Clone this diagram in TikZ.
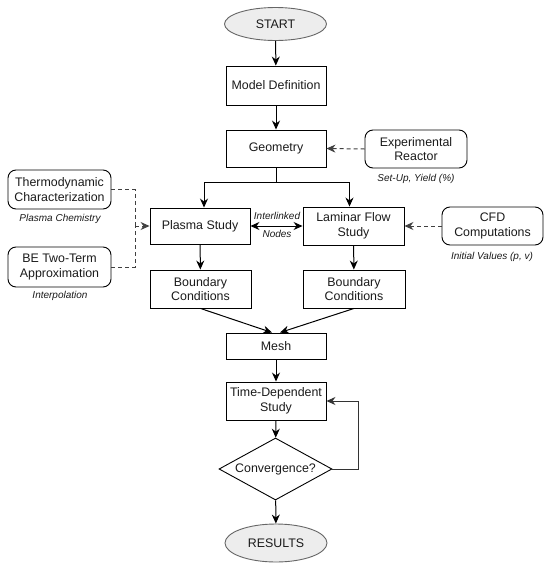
\documentclass[tikz,border=0pt]{standalone}
\usepackage{fontspec}
\setmainfont{Liberation Sans}
\usetikzlibrary{shapes.geometric,arrows.meta}
\definecolor{txt}{HTML}{1A1A1A}
\definecolor{ovfill}{HTML}{EDEDED}
\definecolor{ovline}{HTML}{666666}
\begin{document}
\begin{tikzpicture}[x=1pt,y=-1pt,
  base/.style={text=txt,font=\fontsize{12.4}{14.5}\selectfont,align=center,inner sep=1pt},
  box/.style={base,draw=black,line width=0.9pt,rectangle},
  rbox/.style={base,draw=black,line width=0.9pt,rectangle,rounded corners=8pt},
  oval/.style={base,draw=ovline,fill=ovfill,line width=0.9pt,ellipse,minimum width=102pt},
  cond/.style={base,draw=black,line width=0.9pt,diamond,aspect=1.82,inner sep=0pt,minimum width=113pt,minimum height=62pt},
  note/.style={text=txt,font=\fontsize{10}{12}\selectfont\itshape,inner sep=0pt},
  arr/.style={line width=1pt,-{Stealth[length=9pt,width=8pt]}},
  darr/.style={line width=1pt,{Stealth[length=9pt,width=8pt]}-{Stealth[length=9pt,width=8pt]}},
  dsh/.style={line width=1pt,draw=black!75,dash pattern=on 4pt off 3pt},
  ln/.style={line width=1pt}
]
\useasboundingbox (0,0) rectangle (550,568);
% nodes
\node[oval,minimum height=33pt] (start) at (275.5,24) {START};
\node[box,minimum width=100pt,minimum height=39pt] (model) at (276,85.5) {Model Definition};
\node[box,minimum width=100pt,minimum height=37pt] (geom) at (276,148.5) {Geometry};
\node[rbox,minimum width=102pt,minimum height=38pt] (exp) at (416,149) {Experimental\\Reactor};
\node[box,minimum width=100pt,minimum height=36pt] (plasma) at (200,226) {Plasma Study};
\node[box,minimum width=101pt,minimum height=38pt] (lam) at (353.5,226) {Laminar Flow\\Study};
\node[rbox,minimum width=101pt,minimum height=38pt] (cfd) at (492.5,226) {CFD\\Computations};
\node[rbox,minimum width=103pt,minimum height=39pt] (thermo) at (59.5,189.5) {Thermodynamic\\Characterization};
\node[rbox,minimum width=103pt,minimum height=40pt] (be) at (59.5,267) {BE Two-Term\\Approximation};
\node[box,minimum width=101pt,minimum height=38pt] (bcl) at (200.5,289) {Boundary\\Conditions};
\node[box,minimum width=102pt,minimum height=38pt] (bcr) at (354,289) {Boundary\\Conditions};
\node[box,minimum width=100pt,minimum height=26pt] (mesh) at (276,346) {Mesh};
\node[box,minimum width=100pt,minimum height=38pt] (time) at (276,401) {Time-Dependent\\Study};
\node[cond] (conv) at (275.5,469) {Convergence?};
\node[oval,minimum height=38pt] (res) at (276,543) {RESULTS};
% notes
\node[note] (n1) at (416,179) {Set-Up, Yield (\%)};
\node[note] (n2) at (492,257) {Initial Values (p, v)};
\node[note] (n3) at (60,219) {Plasma Chemistry};
\node[note] (n4) at (60,296) {Interpolation};
\node[note] (n5) at (277,215.5) {Interlinked};
\node[note] (n6) at (277,234) {Nodes};
% coordinates
\coordinate (j) at (276,182);
\coordinate (dj) at (135,226);
% connectors
\draw[arr] (start) -- (model);
\draw[arr] (model) -- (geom);
\draw[ln] (geom.south) -- (j);
\draw[arr] (j) -| ([xshift=4pt]plasma.north);
\draw[arr] (j) -| ([xshift=-4pt]lam.north);
\draw[dsh,arr] (exp.west) -- (geom.east);
\draw[dsh,arr] (cfd.west) -- (lam.east);
\draw[dsh] (thermo.east) -| (dj);
\draw[dsh] (be.east) -| (dj);
\draw[dsh,arr] (dj) -- (plasma.west);
\draw[darr] (plasma.east) -- (lam.west);
\draw[arr] (plasma) -- (bcl);
\draw[arr] (lam) -- (bcr);
\draw[arr] (bcl.south) -- ([xshift=-4pt]mesh.north);
\draw[arr] (bcr.south) -- ([xshift=4pt]mesh.north);
\draw[arr] (mesh) -- (time);
\draw[arr] (time) -- (conv);
\draw[arr] (conv) -- (res);
\draw[arr,draw=black!80] (conv.east) -- ++(26,0) |- (time.east);
\end{tikzpicture}
\end{document}
